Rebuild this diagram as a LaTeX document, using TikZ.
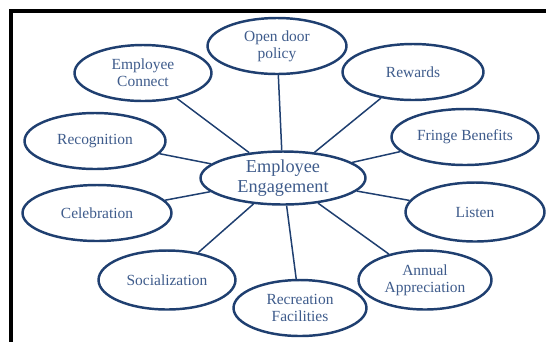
\documentclass[tikz,border=0pt]{standalone}
\usepackage{fontspec}
\setmainfont{Liberation Serif}
\usepackage{xcolor}
\usetikzlibrary{calc, positioning, shapes.geometric}
\definecolor{rim}{HTML}{1F3F70}
\definecolor{ink}{HTML}{3F5C8C}
\begin{document}
\begin{tikzpicture}[x = 0.02cm, y = -0.02cm,
oval/.style = {draw = rim, line width = 1.4pt, ellipse, fill = white, text = ink, align = center, font = \fontsize{8.8}{9.6}\selectfont, inner sep = 0pt, minimum width = 2.66cm, minimum height = 1.12cm}]
\useasboundingbox (0,0) rectangle (546,342);
\draw[line width = 2.3pt] (546,11) -- (11,11) -- (11,342);
\node[oval, minimum width = 3.3cm, minimum height = 1.06cm, font = \fontsize{10.4}{11.2}\selectfont] (EE) at (283,178) {Employee\\Engagement};
\node[oval, minimum width = 2.78cm] (OD) at (277,46) {Open door\\policy};
\node[oval, minimum width = 2.74cm] (EC) at (143,73) {Employee\\Connect};
\node[oval, minimum width = 2.82cm] (RC) at (95,141) {Recognition};
\node[oval, minimum width = 2.82cm] (RW) at (413,72) {Rewards};
\node[oval, minimum width = 2.94cm] (FB) at (465,137) {Fringe Benefits};
\node[oval, minimum width = 2.98cm] (CB) at (97,213) {Celebration};
\node[oval, minimum width = 2.74cm, minimum height = 1.18cm] (SO) at (167,280) {Socialization};
\node[oval, minimum width = 2.66cm] (RF) at (300,308) {Recreation\\Facilities};
\node[oval, minimum width = 2.78cm, minimum height = 1.18cm] (LI) at (475,212) {Listen};
\node[oval, minimum width = 2.66cm, minimum height = 1.18cm] (AA) at (425,280) {Annual\\Appreciation};
\foreach \i in {OD, EC, RC, RW, FB, CB, SO, RF, LI, AA}{
\draw[rim, line width = 0.85pt] (EE) -- (\i);
}
\end{tikzpicture}
\end{document}
